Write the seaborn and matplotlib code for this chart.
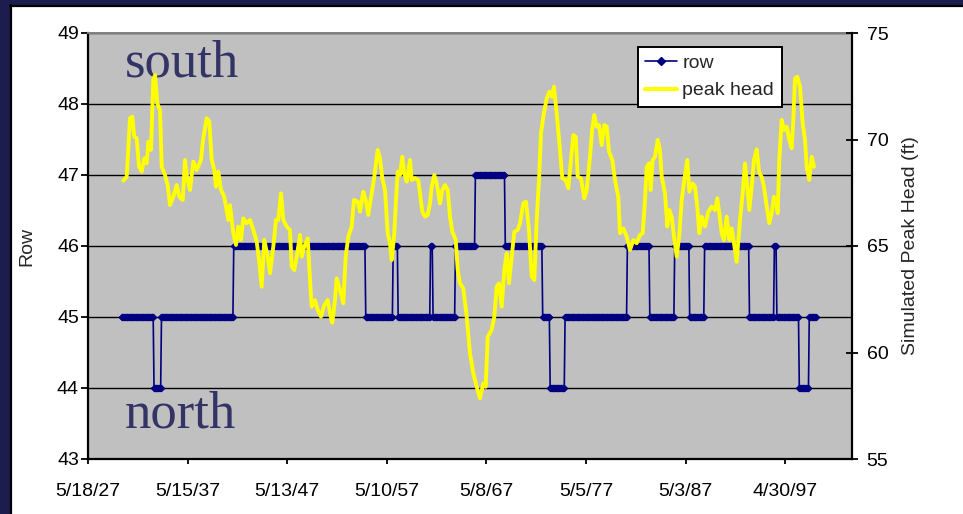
import pandas as pd
import matplotlib
matplotlib.use("Agg")
import matplotlib.pyplot as plt
from matplotlib.ticker import FuncFormatter
from matplotlib.lines import Line2D
from matplotlib.patches import Rectangle
import matplotlib.dates as mdates
import seaborn as sns

# ---- data -------------------------------------------------------------
# Simulated peak head (ft), keyed by spreadsheet serial day number
peak_serial = [
    11294, 11418, 11539, 11624, 11697, 11785, 11869, 11968, 12063, 12151,
    12210, 12309, 12393, 12456, 12540, 12639, 12701, 12822, 12921, 13005,
    13126, 13251, 13346, 13471, 13555, 13617, 13738, 13859, 13984, 14141,
    14226, 14350, 14446, 14534, 14629, 14691, 14775, 14874, 14995, 15142,
    15204, 15325, 15424, 15508, 15607, 15692, 15816, 15937, 16058, 16183,
    16267, 16366, 16461, 16586, 16670, 16791, 16890, 16974, 17073, 17158,
    17282, 17403,
    17465, 17561, 17649, 17770, 17832, 17927, 18052, 18136, 18198, 18319,
    18418, 18539, 18660, 18785, 18869, 18953, 19052, 19115, 19236, 19356,
    19444, 19540, 19664, 19749, 19884, 19969, 20090, 20177, 20273, 20397,
    20493, 20617, 20702, 20786, 20885, 20984, 21068, 21130, 21226, 21288,
    21350, 21435, 21519, 21592, 21680, 21801, 21863, 21984, 22105, 22168,
    22252, 22351, 22450, 22534, 22596, 22692, 22780, 22900, 22985, 23084,
    23183, 23267, 23351, 23476,
    23549, 23633, 23754, 23879, 24000, 24121, 24246, 24366, 24487, 24575,
    24649, 24795, 24891, 24978, 25063, 25162, 25257, 25345, 25429, 25528,
    25624, 25748, 25832, 25953, 26052, 26162, 26261, 26357, 26444, 26529,
    26602, 26686, 26811, 26906, 26994, 27078, 27177, 27298, 27383, 27507,
    27603, 27701, 27786, 27874, 27947, 28068, 28189, 28277, 28398, 28482,
    28555, 28643, 28728, 28827, 28922, 29010, 29094, 29215, 29314, 29435,
    29497, 29618, 29743, 29864, 29985,
    30109, 30230, 30329, 30414, 30476, 30560, 30622, 30696, 30780, 30879,
    30963, 31026, 31147, 31231, 31304, 31392, 31476, 31575, 31671, 31759,
    31854, 31964, 32037, 32162, 32246, 32330, 32404, 32491, 32612, 32733,
    32858, 32979, 33063, 33137, 33224, 33309, 33408, 33503, 33591, 33675,
    33774, 33895, 33994, 34078, 34163, 34236, 34324, 34408, 34507, 34602,
    34690, 34775, 34874, 34969, 35057, 35141, 35215, 35277, 35335, 35423,
    35508, 35607, 35702, 35790, 35849, 35911, 35995, 36094, 36193, 36277,
    36340, 36435, 36523, 36607,
]
peak_head = [
    68.07, 68.25, 71.00, 71.07, 70.13, 70.06, 68.72, 68.49, 69.12, 68.88,
    69.90, 69.51, 72.79, 73.03, 71.70, 71.38, 68.72, 68.33, 67.86, 66.92,
    67.31, 67.86, 67.31, 67.16, 69.04, 68.33, 67.63, 68.96, 68.57, 69.04,
    70.06, 71.00, 70.84, 69.04, 68.57, 67.78, 68.49, 67.63, 67.31, 66.22,
    66.92, 65.60, 65.05, 65.91, 65.28, 66.30, 66.07, 66.22, 65.75, 65.20,
    64.34, 63.09, 65.28, 64.50, 63.72, 64.97, 66.22, 66.22, 67.47, 66.22,
    65.91, 65.75,
    64.03, 63.87, 64.50, 65.52, 64.50, 64.97, 65.36, 63.40, 62.15, 62.46,
    62.00, 61.68, 62.23, 62.46, 61.84, 61.40, 62.46, 63.48, 62.93, 62.31,
    64.50, 65.44, 65.91, 67.16, 67.08, 66.61, 67.55, 67.16, 66.46, 67.47,
    68.25, 69.51, 69.12, 68.18, 67.63, 65.60, 65.13, 64.34, 65.60, 67.16,
    68.49, 68.33, 69.19, 68.41, 68.02, 69.04, 68.10, 68.18, 68.10, 67.47,
    66.61, 66.38, 66.46, 67.00, 67.78, 68.33, 67.94, 67.00, 67.63, 67.86,
    67.63, 66.38, 65.67, 65.28,
    63.87, 63.25, 63.01, 61.68, 59.96, 59.02, 58.39, 57.85, 58.55, 58.39,
    60.74, 61.06, 61.68, 63.09, 63.25, 62.15, 63.87, 64.66, 63.25, 64.50,
    65.67, 65.75, 66.07, 67.00, 67.08, 65.75, 63.56, 63.40, 66.22, 68.10,
    70.29, 71.07, 71.93, 72.24, 72.01, 72.48, 71.23, 69.51, 68.18, 68.10,
    67.71, 69.04, 70.21, 70.13, 68.25, 68.18, 67.24, 67.63, 69.19, 70.53,
    71.15, 70.60, 70.68, 69.74, 70.68, 70.60, 69.43, 69.04, 68.10, 67.31,
    65.60, 65.83, 65.44, 64.81, 65.28,
    65.13, 65.52, 65.60, 67.16, 68.72, 68.88, 67.63, 69.04, 69.19, 69.98,
    69.51, 68.25, 67.47, 65.91, 66.69, 66.38, 65.44, 64.50, 65.52, 67.16,
    68.10, 69.04, 67.55, 67.94, 67.78, 66.85, 65.60, 66.38, 65.91, 66.61,
    66.85, 66.69, 67.24, 66.54, 65.60, 65.28, 66.38, 65.28, 65.83, 65.13,
    64.26, 66.22, 67.47, 68.88, 67.78, 66.69, 67.78, 69.04, 69.54, 68.41,
    68.25, 67.78, 66.85, 66.07, 66.54, 67.31, 67.16, 66.54, 69.04, 70.92,
    70.45, 70.60, 69.98, 69.59, 70.92, 72.87, 72.95, 72.48, 70.76, 69.98,
    68.72, 68.10, 69.19, 68.72,
]

# Model row holding the peak, one value per month starting Oct 1930,
# written as (row, number of consecutive months)
row_start = "1930-10-01"
row_runs = [
    (45, 39), (44, 9), (45, 87), (46, 159), (45, 33), (46, 6), (45, 39),
    (46, 3), (45, 27), (46, 24), (47, 36), (46, 45), (45, 9), (44, 18),
    (45, 75), (46, 27), (45, 30), (46, 18), (45, 18), (46, 54), (45, 30),
    (46, 3), (45, 27), (44, 12), (45, 9),
]

row_ticks = [43, 44, 45, 46, 47, 48, 49]
head_ticks = [55, 60, 65, 70, 75]
date_ticks = ["1927-05-18", "1937-05-15", "1947-05-13", "1957-05-10",
              "1967-05-08", "1977-05-05", "1987-05-03", "1997-04-30"]
date_limits = ["1927-05-18", "2004-01-14"]

# ---- frames -----------------------------------------------------------
peak = pd.DataFrame({
    "date": pd.to_datetime(peak_serial, unit="D", origin="1899-12-30"),
    "head": peak_head,
})
row_values = [r for r, n in row_runs for _ in range(n)]
rows = pd.DataFrame({
    "date": pd.date_range(row_start, periods=len(row_values), freq="MS"),
    "row": row_values,
})

# ---- style ------------------------------------------------------------
sns.set_style("white")
plt.rcParams["font.family"] = ["Liberation Sans", "DejaVu Sans"]

NAVY = "#000080"
YELLOW = "#FFFF00"
W, H = 963, 514

fig = plt.figure(figsize=(W / 100, H / 100), dpi=100)
fig.patch.set_facecolor("white")

# dark slide frame along the top and left edges
fig.patches.append(Rectangle((0, 1 - 5 / H), 1, 5 / H, transform=fig.transFigure,
                             facecolor="#1c1c4e", edgecolor="none", zorder=0))
fig.patches.append(Rectangle((0, 0), 10 / W, 1, transform=fig.transFigure,
                             facecolor="#1c1c4e", edgecolor="none", zorder=0))
fig.lines.append(Line2D([10.8 / W, 10.8 / W], [0, 1 - 5 / H], transform=fig.transFigure,
                        color="black", lw=1.6))
fig.lines.append(Line2D([10 / W, 1], [1 - 5.8 / H, 1 - 5.8 / H], transform=fig.transFigure,
                        color="black", lw=1.6))

ax = fig.add_axes([88 / W, 55 / H, 764 / W, 426 / H])
ax.set_facecolor("#C0C0C0")
ax2 = ax.twinx()

# row of the peak (left axis)
sns.lineplot(data=rows, x="date", y="row", ax=ax, color=NAVY, lw=1.2,
             marker="D", markersize=3.3, markeredgewidth=0.8,
             markeredgecolor=NAVY, markerfacecolor=NAVY,
             estimator=None, legend=False)

# simulated peak head (right axis)
sns.lineplot(data=peak, x="date", y="head", ax=ax2, color=YELLOW, lw=2.8,
             estimator=None, sort=False, legend=False)

# ---- axes -------------------------------------------------------------
ax.set_xlim(pd.to_datetime(date_limits))
ax.set_ylim(row_ticks[0], row_ticks[-1])
ax2.set_ylim(head_ticks[0], head_ticks[-1])

ax.set_yticks(row_ticks)
ax2.set_yticks(head_ticks)
ax.set_xticks(pd.to_datetime(date_ticks))


def fmt_date(v, _):
    d = mdates.num2date(v)
    return f"{d.month}/{d.day}/{d:%y}"


ax.xaxis.set_major_formatter(FuncFormatter(fmt_date))

ax.set_axisbelow(True)
ax.yaxis.grid(True, color="black", lw=1.0)
ax.xaxis.grid(False)
ax2.grid(False)

for a in (ax, ax2):
    for s in a.spines.values():
        s.set_visible(False)
ax.spines["left"].set_visible(True)
ax.spines["left"].set_color("black")
ax.spines["left"].set_linewidth(1.6)
ax.spines["bottom"].set_visible(True)
ax.spines["bottom"].set_color("black")
ax.spines["bottom"].set_linewidth(1.6)
ax.spines["top"].set_visible(True)
ax.spines["top"].set_color("#808080")
ax.spines["top"].set_linewidth(1.4)
ax2.spines["right"].set_visible(True)
ax2.spines["right"].set_color("black")
ax2.spines["right"].set_linewidth(1.6)

ax.tick_params(axis="y", direction="out", length=5, width=1.3, pad=1.5,
               labelsize=14, colors="black", left=True)
ax.tick_params(axis="x", direction="out", length=3.6, width=1.3, pad=13.5,
               labelsize=14, colors="black", bottom=True)
ax2.tick_params(axis="y", direction="inout", length=9, width=1.3, pad=6,
                labelsize=14, colors="black", right=True)

ax.set_xlabel("")
ax.set_ylabel("Row", fontsize=14)
ax2.set_ylabel("Simulated Peak Head (ft)", fontsize=14, rotation=90)
ax.yaxis.set_label_coords((35 - 88) / 764, 0.5)
ax2.yaxis.set_label_coords((901.5 - 88) / 764, 0.5)

# ---- annotations ------------------------------------------------------
ax.text(0.048, 0.897, "south", transform=ax.transAxes, fontsize=38,
        family=["Liberation Serif", "DejaVu Serif"], color="#333366",
        ha="left", va="baseline")
ax.text(0.048, 0.073, "north", transform=ax.transAxes, fontsize=38,
        family=["Liberation Serif", "DejaVu Serif"], color="#333366",
        ha="left", va="baseline")

handles = [
    Line2D([], [], color=NAVY, lw=1.2, marker="D", markersize=3.6,
           markeredgewidth=1.0, markerfacecolor=NAVY, markeredgecolor=NAVY),
    Line2D([], [], color=YELLOW, lw=3.0),
]
leg = ax2.legend(handles, ["row", "peak head"], loc="upper left",
                 bbox_to_anchor=(637.7 / W, 1 - 46.7 / H),
                 bbox_transform=fig.transFigure, fontsize=14, frameon=True,
                 fancybox=False, framealpha=1, edgecolor="black",
                 borderpad=0.4, labelspacing=0.5, handlelength=1.6,
                 handletextpad=0.3, borderaxespad=0, numpoints=1)
leg.get_frame().set_linewidth(1.4)
leg.set_zorder(10)

fig.savefig("out.png", dpi=100, facecolor="white")
